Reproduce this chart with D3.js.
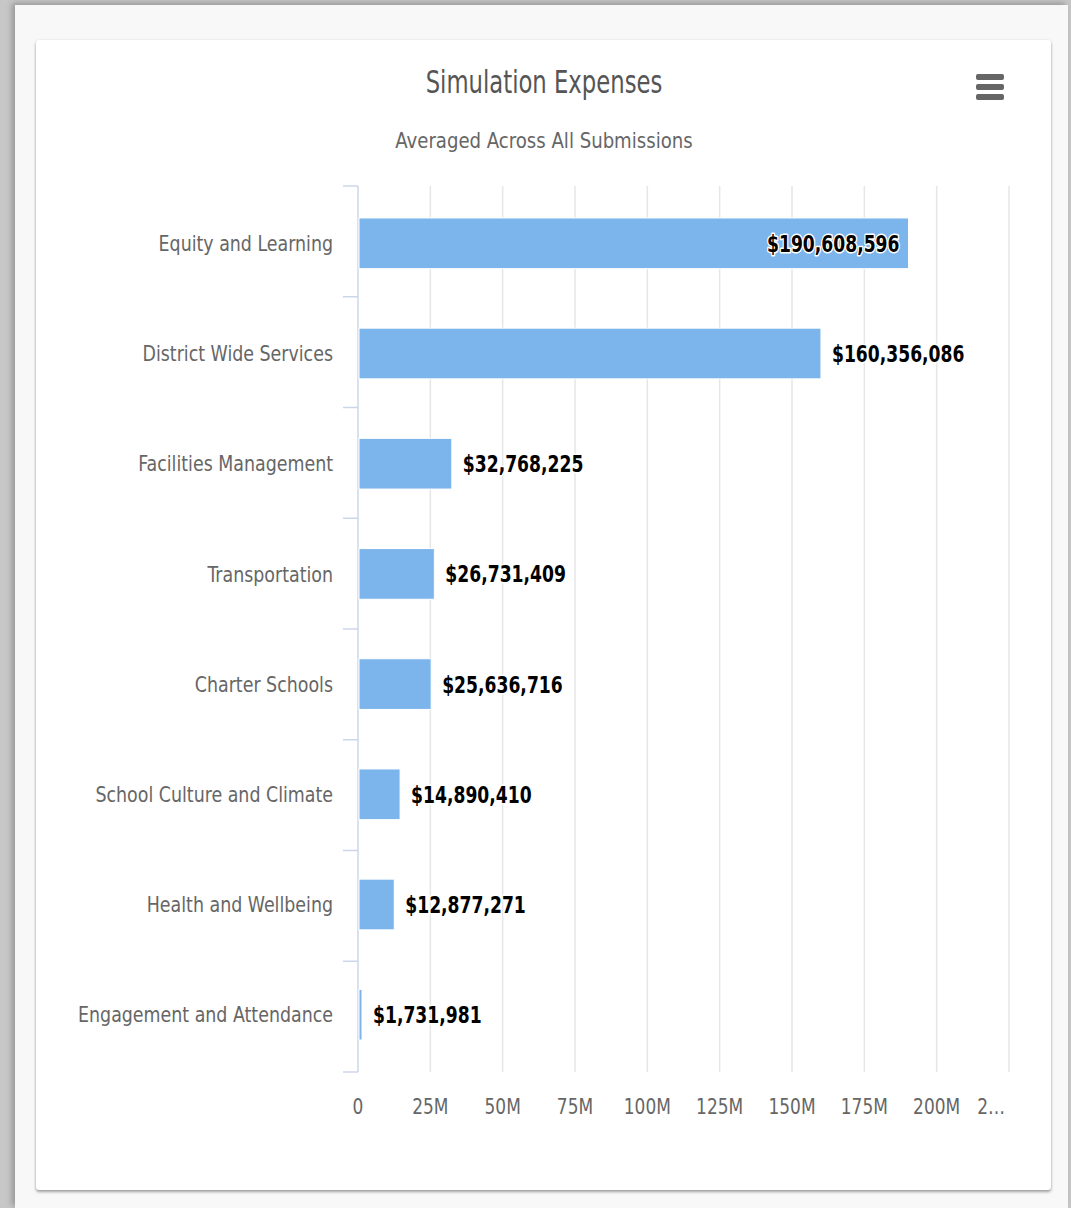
<!DOCTYPE html>
<html>
<head>
<meta charset="utf-8">
<script src="https://cdn.jsdelivr.net/npm/d3@7"></script>
<style>
  html, body { margin: 0; padding: 0; }
  body { width: 1071px; height: 1208px; background: #c6c7c6; overflow: hidden; position: relative; }
  #page { position: absolute; left: 15px; top: 5px; width: 1053px; height: 1203px; background: #f8f8f8;
          box-shadow: -3px -2px 6px rgba(0,0,0,0.25); }
  #card { position: absolute; left: 36px; top: 40px; width: 1015px; height: 1150px; background: #fff;
          border-radius: 3px; box-shadow: 0 2px 3px rgba(0,0,0,0.35), 0 0 3px rgba(0,0,0,0.08); }
  svg { position: absolute; left: 0; top: 0; }
  text { font-family: "DejaVu Sans Condensed", "DejaVu Sans", sans-serif; font-stretch: condensed; }
</style>
</head>
<body>
<div id="page"></div>
<div id="card"></div>
<svg id="chart" width="1071" height="1208"></svg>
<script>
const categories = [
  "Equity and Learning",
  "District Wide Services",
  "Facilities Management",
  "Transportation",
  "Charter Schools",
  "School Culture and Climate",
  "Health and Wellbeing",
  "Engagement and Attendance"
];
const values = [190608596, 160356086, 32768225, 26731409, 25636716, 14890410, 12877271, 1731981];
const tickValues = [0, 25e6, 50e6, 75e6, 100e6, 125e6, 150e6, 175e6, 200e6, 225e6];
const tickLabels = ["0", "25M", "50M", "75M", "100M", "125M", "150M", "175M", "200M", "2…"];
const titleText = "Simulation Expenses";
const subtitleText = "Averaged Across All Submissions";

const svg = d3.select("#chart");
const plot = { left: 358, right: 1009, top: 186, bottom: 1072 };

const x = d3.scaleLinear().domain([0, 225e6]).range([plot.left, plot.right]);
const y = d3.scaleBand().domain(categories).range([plot.top, plot.bottom]).paddingInner(0.54).paddingOuter(0.29);
const yEdge = d3.scaleBand().domain(categories).range([plot.top, plot.bottom]);

// helper: condensed text via horizontal scale
function ctext(parent, px, py, sx, str) {
  const g = parent.append("g").attr("transform", `translate(${px},${py}) scale(${sx},1)`);
  return g.append("text").attr("x", 0).attr("y", 0).text(str);
}

// title
ctext(svg, 544, 93, 0.79, titleText).attr("text-anchor", "middle")
  .attr("font-size", 32).attr("fill", "#555");
ctext(svg, 544, 148, 0.915, subtitleText).attr("text-anchor", "middle")
  .attr("font-size", 22).attr("fill", "#666");

// menu icon
const menu = svg.append("g").attr("fill", "#666");
[0, 1, 2].forEach(i => menu.append("rect").attr("x", 976).attr("y", 74 + i * 10).attr("width", 28).attr("height", 6).attr("rx", 2));

// grid
svg.append("g").selectAll("line").data(tickValues.slice(1)).join("line")
  .attr("x1", d => x(d)).attr("x2", d => x(d)).attr("y1", plot.top).attr("y2", plot.bottom)
  .attr("stroke", "#e6e6e6").attr("stroke-width", 1.5);

// category axis
const yAxis = svg.append("g");
yAxis.append("line").attr("x1", plot.left).attr("x2", plot.left).attr("y1", plot.top).attr("y2", plot.bottom)
  .attr("stroke", "#ccd6eb").attr("stroke-width", 1.5);
const edges = categories.map(c => yEdge(c)).concat([plot.bottom]);
yAxis.selectAll("line.tick").data(edges).join("line").attr("class", "tick")
  .attr("x1", plot.left - 15).attr("x2", plot.left).attr("y1", d => d).attr("y2", d => d)
  .attr("stroke", "#ccd6eb").attr("stroke-width", 1.5);
categories.forEach(c => {
  ctext(yAxis, 333, y(c) + y.bandwidth() / 2, 0.88, c).attr("dy", "0.35em")
    .attr("text-anchor", "end").attr("font-size", 22).attr("fill", "#666");
});

// x axis labels
const xAxis = svg.append("g");
tickValues.forEach((d, i) => {
  const last = i === tickValues.length - 1;
  ctext(xAxis, last ? 1005 : x(d), 1114, 0.9, tickLabels[i])
    .attr("text-anchor", last ? "end" : "middle")
    .attr("font-size", 21).attr("fill", "#666");
});

// bars
svg.append("g").selectAll("rect").data(values).join("rect")
  .attr("x", x(0) + 1).attr("y", (d, i) => y(categories[i]))
  .attr("width", d => Math.max(3, x(d) - x(0) - 2)).attr("height", y.bandwidth())
  .attr("fill", "#7cb5ec").attr("stroke", "#fff").attr("stroke-width", 1);

// data labels
const fmt = d => "$" + d3.format(",")(d);
const lg = svg.append("g");
values.forEach((d, i) => {
  const cy = y(categories[i]) + y.bandwidth() / 2;
  const inside = x(d) > 880;
  ctext(lg, inside ? x(d) - 10 : x(d) + 10, cy, 0.83, fmt(d))
    .attr("dy", "0.37em").attr("text-anchor", inside ? "end" : "start")
    .attr("font-size", 23).attr("font-weight", "bold").attr("fill", "#000")
    .attr("stroke", "#fff").attr("stroke-width", 3).attr("stroke-linejoin", "round").attr("paint-order", "stroke");
});
</script>
</body>
</html>
